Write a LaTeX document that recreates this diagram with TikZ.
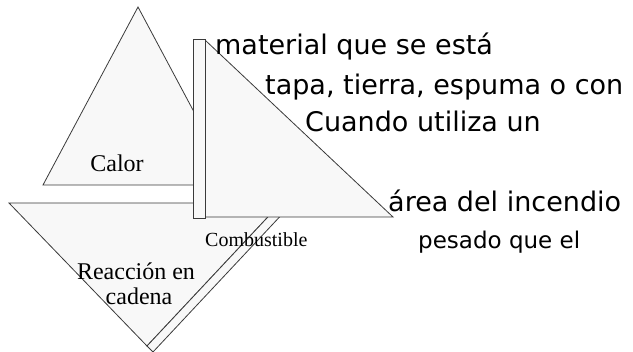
\documentclass[tikz,border=0pt]{standalone}
\usepackage{fontspec}
\setmainfont{Liberation Serif}
\newfontfamily\tahomalike{DejaVu Sans}
\definecolor{edge}{HTML}{3A3A3A}
\definecolor{paper}{HTML}{F8F8F8}
\tikzset{
  piece/.style={draw=edge, fill=paper, line width=0.8pt, line join=miter},
  serifl/.style={font=\fontsize{24}{26}\selectfont, inner sep=0pt, anchor=base, align=center},
  serifs/.style={font=\fontsize{20}{22}\selectfont, inner sep=0pt, anchor=base west},
  bigtxt/.style={font=\tahomalike\fontsize{27}{30}\selectfont, inner sep=0pt, anchor=base west},
  smalltxt/.style={font=\tahomalike\fontsize{23}{26}\selectfont, inner sep=0pt, anchor=base west}
}
\begin{document}
\begin{tikzpicture}[x=1pt, y=-1pt]
\useasboundingbox (0,0) rectangle (633,352);
\begin{scope}
\clip (0,0) rectangle (633,352);
% Calor triangle
\draw[piece] (138,7) -- (233,185) -- (43,185) -- cycle;
% Reaccion triangle and its bar
\draw[piece] (9,203) -- (281,203) -- (147,346) -- cycle;
\draw[piece] (147,346) -- (281,203) -- (287,209) -- (153,352) -- cycle;
% Combustible triangle
\draw[piece] (205,40) -- (393,217) -- (205,217) -- cycle;
% vertical bar
\draw[piece] (193,39) rectangle (205,218);
\end{scope}
\node[serifl] (calor) at (117,172) {Calor};
\node[serifl] (reac1) at (136,280) {Reacción en};
\node[serifl] (reac2) at (139,305) {cadena};
\node[serifs] (comb) at (205,247) {Combustible};
\node[bigtxt] (t1) at (215,55) {material que se está};
\node[bigtxt] (t2) at (265,95) {tapa, tierra, espuma o con};
\node[bigtxt] (t3) at (305,132) {Cuando utiliza un};
\node[bigtxt] (t4) at (388,212) {área del incendio};
\node[smalltxt] (t5) at (418,249) {pesado que el};
\end{tikzpicture}
\end{document}
